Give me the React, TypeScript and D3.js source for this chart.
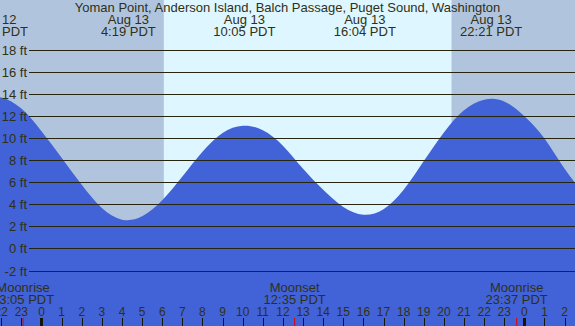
import * as d3 from "d3";

// tide heights (ft), hour of Aug 13 (negative = Aug 12)
const hours = [-3, -2, -1, 0, 1, 2, 3, 4, 5, 6, 7, 8, 9, 10, 11, 12, 13, 14, 15, 16, 17, 18, 19, 20, 21, 22, 23, 24, 25, 26, 27];
const heights = [13.7, 13.66, 12.65, 10.6, 8.2, 5.75, 3.65, 2.6, 2.9, 4.35, 6.5, 8.75, 10.45, 11.1, 10.7, 9.3, 7.2, 5.3, 3.75, 3.05, 3.55, 5.3, 7.9, 10.5, 12.5, 13.45, 13.3, 11.95, 9.95, 7.2, 4.9];

const tideHours = [4.317, 10.083, 16.067, 22.35];
const tideTimes = ["4:19 PDT", "10:05 PDT", "16:04 PDT", "22:21 PDT"];

const moonHours = [-0.917, 12.583, 23.617];
const moonNames = ["Moonrise", "Moonset", "Moonrise"];
const moonTimes = ["23:05 PDT", "12:35 PDT", "23:37 PDT"];

const sunrise = 6.08;
const sunset = 20.38;

const feetTicks = [-2, 0, 2, 4, 6, 8, 10, 12, 14, 16, 18];
const hourTicks = d3.range(-2, 27);

const title = "Yoman Point, Anderson Island, Balch Passage, Puget Sound, Washington";

const W = 575;
const H = 326;
const font = "'Liberation Sans', Arial, sans-serif";
const ink = "#303015";

export default function App() {
  const x = d3.scaleLinear().domain([-2.0626, 26.516]).range([0, W]);
  const y = d3.scaleLinear().domain([-2, 18]).range([270.5, 49.5]);

  const pts = hours.map((h, i) => [h, heights[i]] as [number, number]);
  const area = d3
    .area<[number, number]>()
    .x((d) => x(d[0]))
    .y0(H)
    .y1((d) => y(d[1]))
    .curve(d3.curveNatural);

  return (
    <svg
      width={W}
      height={H}
      style={{ position: "absolute", left: 0, top: 0, display: "block" }}
      fontFamily={font}
    >
      {/* night / day background */}
      <rect x={0} y={0} width={W} height={H} fill="#b0c4de" />
      <rect x={x(sunrise)} y={0} width={x(sunset) - x(sunrise)} height={H} fill="#def6ff" />

      {/* tide */}
      <path d={area(pts) as string} fill="#4262d8" />

      {/* grid lines + feet labels */}
      {feetTicks.map((f) => (
        <g key={f}>
          <line
            x1={29}
            x2={W}
            y1={Math.round(y(f)) + 0.5}
            y2={Math.round(y(f)) + 0.5}
            stroke="#252510"
            strokeWidth={1.2}
          />
          <text x={27} y={Math.round(y(f)) + 5} textAnchor="end" fontSize={13} fill={ink}>
            {f} ft
          </text>
        </g>
      ))}

      {/* title */}
      <text x={W / 2} y={12} textAnchor="middle" fontSize={13} fill={ink}>
        {title}
      </text>

      {/* partial label from Aug 12 at left edge */}
      <text x={2} y={24} fontSize={13} fill={ink}>12</text>
      <text x={2} y={36} fontSize={13} fill={ink}>PDT</text>

      {/* tide extremes */}
      {tideHours.map((h, i) => (
        <g key={h}>
          <text x={x(h)} y={24} textAnchor="middle" fontSize={13} fill={ink}>
            Aug 13
          </text>
          <text x={x(h)} y={36} textAnchor="middle" fontSize={13} fill={ink}>
            {tideTimes[i]}
          </text>
        </g>
      ))}

      {/* moon events */}
      {moonHours.map((h, i) => (
        <g key={h}>
          <text x={x(h)} y={292} textAnchor="middle" fontSize={13} fill={ink}>
            {moonNames[i]}
          </text>
          <text x={x(h)} y={304} textAnchor="middle" fontSize={13} fill={ink}>
            {moonTimes[i]}
          </text>
          <line x1={x(h)} x2={x(h)} y1={318} y2={H} stroke="#e00000" strokeWidth={1} />
        </g>
      ))}

      {/* hour axis */}
      {hourTicks.map((h) => {
        const hh = ((h % 24) + 24) % 24;
        const xi = Math.round(x(h)) + 0.5;
        return (
          <g key={h}>
            <text x={x(h)} y={316} textAnchor="middle" fontSize={12} fill={ink}>
              {hh}
            </text>
            <line
              x1={xi}
              x2={xi}
              y1={318}
              y2={H}
              stroke="#151505"
              strokeWidth={hh === 0 ? 3 : 1}
            />
          </g>
        );
      })}
    </svg>
  );
}
